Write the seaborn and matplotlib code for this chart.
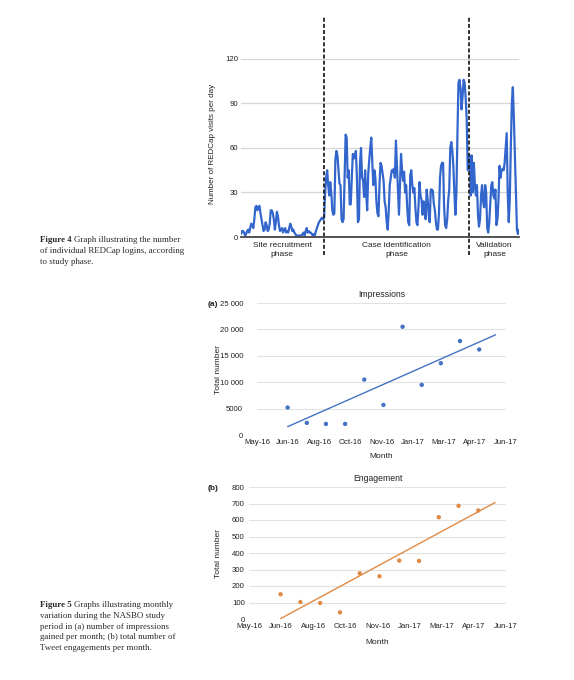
import matplotlib
matplotlib.use('Agg')
import matplotlib.pyplot as plt
import matplotlib.transforms as mtransforms
import numpy as np
import pandas as pd
import seaborn as sns

# daily REDCap visits, one list per study phase
recruitment = [2, 4, 4, 3, 1, 2, 4, 5, 3, 6, 9, 8, 6, 12, 20, 21, 18, 20, 21, 16,
               12, 8, 4, 5, 10, 8, 4, 5, 9, 18, 18, 16, 12, 5, 10, 17, 14, 8, 4, 5,
               6, 3, 5, 6, 3, 4, 3, 6, 9, 7, 4, 5, 3, 2, 1, 1, 1, 1, 1, 1,
               2, 3, 1, 4, 6, 3, 4, 3, 3, 2, 1, 2, 1, 4, 6, 8, 10, 11, 12, 13, 12]
case_identification = [13, 30, 40, 45, 35, 28, 37, 30, 18, 15, 16, 52, 58, 55, 45, 36, 35, 12, 10, 12,
                       40, 69, 67, 40, 45, 22, 22, 40, 56, 53, 55, 58, 40, 10, 12, 50, 60, 40, 38, 27,
                       45, 30, 18, 42, 52, 60, 67, 50, 35, 45, 40, 24, 16, 14, 35, 50, 48, 43, 38, 24,
                       20, 10, 5, 18, 35, 40, 45, 44, 46, 40, 65, 48, 30, 15, 35, 56, 45, 38, 44, 30,
                       35, 20, 10, 8, 42, 45, 35, 30, 33, 20, 10, 8, 20, 37, 28, 25, 15, 24, 19, 12,
                       32, 25, 15, 10, 32, 32, 31, 22, 18, 10, 5, 5, 16, 40, 48, 50, 50, 20, 8, 6,
                       12, 25, 32, 60, 64, 58, 48, 30, 15, 30, 70, 104, 106, 100, 86, 95, 106, 104, 94, 80,
                       45, 50]
validation = [55, 28, 55, 30, 50, 35, 28, 35, 15, 7, 12, 28, 35, 24, 20, 35, 30, 6, 3, 10,
              22, 35, 37, 28, 26, 32, 8, 12, 25, 48, 40, 45, 46, 45, 50, 60, 70, 30, 10, 25,
              60, 90, 101, 80, 55, 30, 5, 2, 5]
phase_names = ['Site recruitment\nphase', 'Case identification\nphase', 'Validation\nphase']

# monthly twitter numbers
months = ['Jun-16', 'Jul-16', 'Aug-16', 'Sep-16', 'Oct-16', 'Nov-16',
          'Dec-16', 'Jan-17', 'Feb-17', 'Mar-17', 'Apr-17']
impressions = [5200, 2300, 2100, 2100, 10500, 5700, 20500, 9500, 13600, 17800, 16200]
engagement = [150, 103, 97, 40, 277, 259, 354, 352, 617, 686, 658]
month_labels = ['May-16', 'Jun-16', 'Aug-16', 'Oct-16', 'Nov-16', 'Jan-17', 'Mar-17', 'Apr-17', 'Jun-17']
imp_ticks = [0, 5000, 10000, 15000, 20000, 25000]
imp_labels = ['0', '5000', '10 000', '15 000', '20 000', '25 000']
eng_ticks = [0, 100, 200, 300, 400, 500, 600, 700, 800]

phases = [recruitment, case_identification, validation]
daily = pd.DataFrame({'visits': np.concatenate(phases)})
daily['day'] = np.arange(len(daily))
edges = np.cumsum([0] + [len(p) for p in phases])

monthly = pd.DataFrame({'month': months, 'impressions': impressions, 'engagement': engagement})
monthly['idx'] = np.arange(len(monthly))

sns.set_style('white')
plt.rcParams['font.family'] = ['Liberation Sans', 'DejaVu Sans']
SERIF = ['Liberation Serif', 'DejaVu Serif']
W, H = 574, 680

fig = plt.figure(figsize=(5.74, 6.8), dpi=100)

# ---- Figure 4: daily visits
ax = fig.add_axes([241 / W, 1 - 237 / H, 278 / W, 178 / H])
sns.lineplot(data=daily, x='day', y='visits', color='#3366cc', lw=1.6, ax=ax)
ax.set_xlim(daily['day'].min(), daily['day'].max())
ax.set_ylim(0, 120)
ax.set_yticks([0, 30, 60, 90, 120])
ax.set_xticks([])
ax.yaxis.grid(True, color='#d6d6d6', lw=0.9)
for s in ['top', 'right', 'left']:
    ax.spines[s].set_visible(False)
ax.spines['bottom'].set_color('#444444')
ax.spines['bottom'].set_linewidth(1.3)
ax.tick_params(axis='y', length=0, pad=2, labelsize=5.6, labelcolor='#222222')
ax.set_xlabel('')
ax.set_ylabel('')
for b in edges[1:-1]:
    ax.axvline(b - 0.5, ymin=-0.1, ymax=1.24, clip_on=False, color='#222222',
               ls=(0, (2.2, 1.2)), lw=1.3)
trans = mtransforms.blended_transform_factory(ax.transData, ax.transAxes)
for i, name in enumerate(phase_names):
    ax.text((edges[i] + edges[i + 1] - 1) / 2, -0.03, name, transform=trans,
            ha='center', va='top', fontsize=6, linespacing=1.3, color='#222222')
fig.text(213 / W, 1 - 144 / H, 'Number of REDCap visits per day', rotation=90,
         ha='center', va='center', fontsize=5.8, color='#222222')

# ---- Figure 5: impressions / engagement
xlim = (-1.6, 11.4)
panels = [
    ('impressions', 'Impressions', '(a)', '#4472c4', [257, 435, 249, 132], 304, 456, imp_ticks, imp_labels, 10),
    ('engagement', 'Engagement', '(b)', '#e08a44', [249, 619, 257, 132], 488, 642, eng_ticks, [str(t) for t in eng_ticks], 3),
]
for col, title, tag, color, box, tag_y, month_y, yt, yl, ypad in panels:
    left, bottom, width, height = box
    axp = fig.add_axes([left / W, 1 - bottom / H, width / W, height / H])
    sns.scatterplot(data=monthly, x='idx', y=col, color=color, s=10, edgecolor='none', ax=axp)
    slope, icpt = np.polyfit(monthly['idx'], monthly[col], 1)
    tx = np.array([monthly['idx'].min(), monthly['idx'].max() + 0.85])
    sns.lineplot(x=tx, y=slope * tx + icpt, color=color, lw=1.0, ax=axp)
    axp.set_xlim(*xlim)
    axp.set_ylim(yt[0], yt[-1])
    axp.set_yticks(yt)
    axp.set_yticklabels(yl)
    axp.set_xticks(np.linspace(xlim[0], xlim[1], len(month_labels)))
    axp.set_xticklabels(month_labels)
    axp.yaxis.grid(True, color='#e2e2e2', lw=0.8)
    for s in axp.spines.values():
        s.set_visible(False)
    axp.tick_params(axis='y', length=0, pad=ypad, labelsize=5.6, labelcolor='#222222')
    axp.tick_params(axis='x', length=0, pad=3, labelsize=5.6, labelcolor='#222222')
    axp.set_xlabel('')
    axp.set_ylabel('')
    axp.set_title(title, fontsize=6.2, pad=4, color='#222222')
    fig.text(213 / W, 1 - tag_y / H, tag, fontweight='bold', fontsize=6,
             ha='center', va='center', color='#222222')
    fig.text((left + width / 2) / W, 1 - month_y / H, 'Month', ha='center', va='center',
             fontsize=6, color='#222222')
    fig.text(218 / W, 1 - (bottom - height / 2) / H, 'Total number', rotation=90,
             ha='center', va='center', fontsize=6, color='#222222')

# ---- captions
renderer = fig.canvas.get_renderer()


def caption(base_px, bold, lines):
    x0 = 40 / W
    y = 1 - base_px / H
    t = fig.text(x0, y, bold, family=SERIF, fontweight='bold', fontsize=6.4,
                 va='baseline', color='#2a2a2a')
    x1 = t.get_window_extent(renderer).x1 / fig.bbox.width + 2.5 / W
    fig.text(x1, y, lines[0], family=SERIF, fontsize=6.4, va='baseline', color='#2a2a2a')
    for k, line in enumerate(lines[1:], start=1):
        fig.text(x0, 1 - (base_px + 10.8 * k) / H, line, family=SERIF, fontsize=6.4,
                 va='baseline', color='#2a2a2a')


caption(242, 'Figure 4', ['Graph illustrating the number',
                          'of individual REDCap logins, according',
                          'to study phase.'])
caption(607, 'Figure 5', ['Graphs illustrating monthly',
                          'variation during the NASBO study',
                          'period in (a) number of impressions',
                          'gained per month; (b) total number of',
                          'Tweet engagements per month.'])

fig.savefig('out.png', dpi=100, facecolor='white')
